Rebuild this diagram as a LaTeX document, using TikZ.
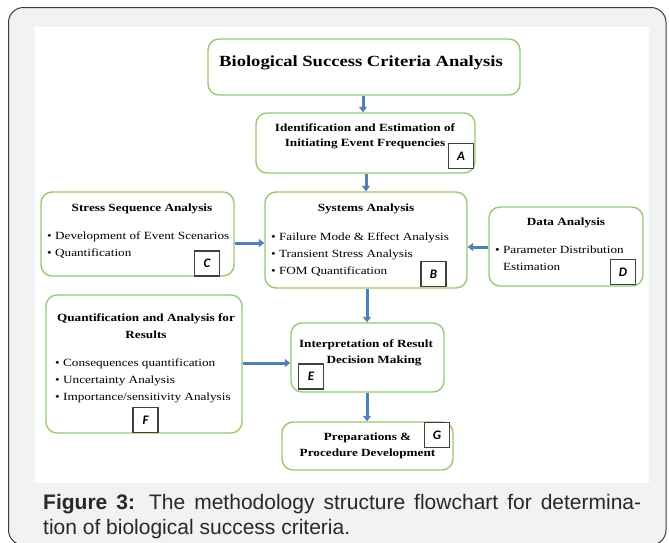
\documentclass[tikz,border=0pt]{standalone}
\usepackage{fontspec}
\setmainfont{Liberation Serif}[FakeStretch=1.2]
\newfontfamily\capfont{Liberation Sans}
\newfontfamily\labfont{Carlito}
\usetikzlibrary{arrows.meta}
\definecolor{frameg}{RGB}{241,242,244}
\definecolor{boxg}{RGB}{152,200,118}
\definecolor{arrb}{RGB}{80,128,185}
\definecolor{capc}{RGB}{40,40,40}
\definecolor{framel}{RGB}{60,60,60}
\begin{document}
\begin{tikzpicture}[x=1pt,y=-1pt,
 box/.style={draw=boxg, line width=1.4pt, rounded corners=11pt, fill=white, inner sep=0},
 lab/.style={draw=black!75, line width=1.3pt, fill=white, minimum width=25pt, minimum height=25pt, inner sep=0, font=\labfont\itshape\bfseries\fontsize{13}{13}\selectfont},
 hd/.style={font=\bfseries\fontsize{11}{15}\selectfont, inner sep=0, align=center},
 bl/.style={font=\fontsize{11}{17}\selectfont, inner sep=0, align=left, anchor=west},
 arr/.style={draw=arrb, line width=3pt, -{Triangle[width=8pt,length=5.5pt]}},
 captxt/.style={font=\capfont\fontsize{21}{25}\selectfont, text=capc, inner sep=0, anchor=base west},
]
\useasboundingbox (0,0) rectangle (669,542);
% frame and panel
\draw[fill=frameg, draw=framel, line width=1pt, rounded corners=15pt] (8.5,7.5) rectangle (666,545);
\fill[white] (35,27) rectangle (649,483);

% boxes
\node[box, minimum width=312pt, minimum height=56pt] (T) at (364,67) {};
\node[box, minimum width=219pt, minimum height=60pt] (A) at (365.5,143) {};
\node[box, minimum width=202pt, minimum height=96pt] (B) at (366,240) {};
\node[box, minimum width=193pt, minimum height=84pt] (C) at (137.5,234) {};
\node[box, minimum width=154pt, minimum height=79pt] (D) at (566,246.5) {};
\node[box, minimum width=153pt, minimum height=69pt] (E) at (367.5,357.5) {};
\node[box, minimum width=196pt, minimum height=138pt] (F) at (144,364) {};
\node[box, minimum width=171pt, minimum height=48pt] (G) at (367.5,446) {};

% texts
\node[font=\bfseries\fontsize{15.5}{18}\selectfont, inner sep=0] (Tt) at (361,63) {Biological Success Criteria Analysis};
\node[hd] (At) at (365,136) {Identification and Estimation of\\Initiating Event Frequencies};
\node[hd] (Bt) at (366,209) {Systems Analysis};
\node[bl] (Bb) at (271,254.5) {\textbullet\ Failure Mode \& Effect Analysis\\\textbullet\ Transient Stress Analysis\\\textbullet\ FOM Quantification};
\node[hd] (Ct) at (142,209) {Stress Sequence Analysis};
\node[bl] (Cb) at (47,245.5) {\textbullet\ Development of Event Scenarios\\\textbullet\ Quantification};
\node[hd] (Dt) at (566,223) {Data Analysis};
\node[bl] (Db) at (495,258.5) {\textbullet\ Parameter Distribution\\\phantom{\textbullet\ }Estimation};
\node[hd] (Et1) at (366,345) {Interpretation of Result};
\node[hd] (Et2) at (374,361) {Decision Making};
\node[hd, font=\bfseries\fontsize{11}{17}\selectfont] (Ft) at (146,326.5) {Quantification and Analysis for\\Results};
\node[bl] (Fb) at (55,381) {\textbullet\ Consequences quantification\\\textbullet\ Uncertainty Analysis\\\textbullet\ Importance/sensitivity Analysis};
\node[hd, font=\bfseries\fontsize{11}{16}\selectfont] (Gt) at (367.5,446) {Preparations \&\\Procedure Development};

% labels
\node[lab] (La) at (461,156) {A};
\node[lab] (Lb) at (433.5,274) {B};
\node[lab] (Lc) at (207,263.5) {C};
\node[lab] (Ld) at (623,272) {D};
\node[lab] (Le) at (311,376.5) {E};
\node[lab] (Lf) at (145.5,420) {F};
\node[lab] (Lg) at (437,435) {G};

% arrows
\draw[arr] (T.south -| 363,0) -- (A.north -| 363,0);
\draw[arr] (A.south -| 366,0) -- (B.north -| 366,0);
\draw[arr] (C.east |- 0,243) -- (B.west |- 0,243);
\draw[arr] (D.west |- 0,247) -- (B.east |- 0,247);
\draw[arr] (B.south -| 367,0) -- (E.north -| 367,0);
\draw[arr] (F.east |- 0,363) -- (E.west |- 0,363);
\draw[arr] (E.south -| 367,0) -- (G.north -| 367,0);

% caption
\node[captxt] (cap1) at (43,509) {\makebox[598pt][s]{\textbf{Figure 3:} The methodology structure flowchart for determina-}};
\node[captxt] (cap2) at (43,534) {tion of biological success criteria.};
\end{tikzpicture}
\end{document}
